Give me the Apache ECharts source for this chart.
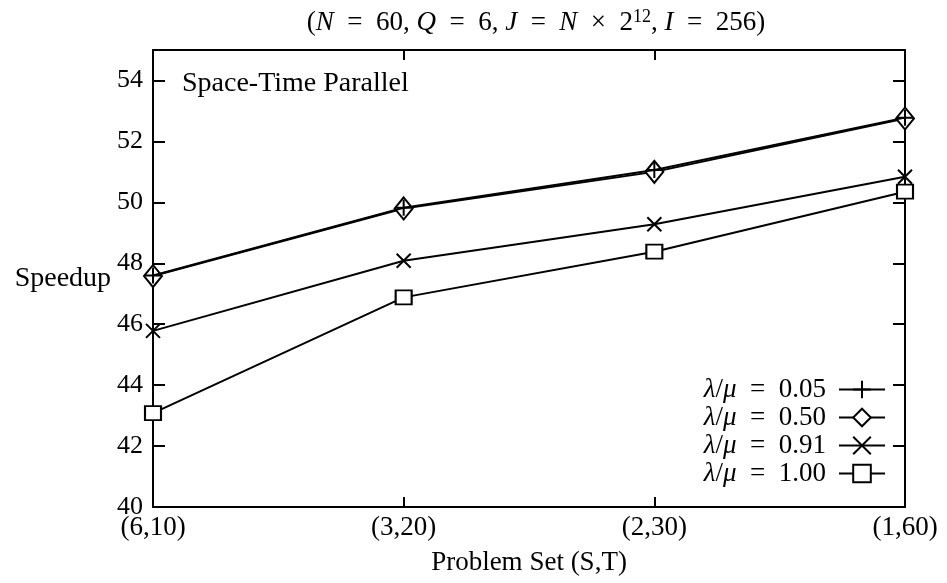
<!DOCTYPE html>
<html>
<head>
<meta charset="utf-8">
<script src="https://cdn.jsdelivr.net/npm/echarts@6/dist/echarts.min.js"></script>
<style>
  html, body { margin: 0; padding: 0; background: #fff; }
  #chart { width: 947px; height: 583px; }
</style>
</head>
<body>
<div id="chart"></div>
<script>
// problem sets along the x axis
var problemSets = ['(6,10)', '(3,20)', '(2,30)', '(1,60)'];
var ratioNames = ['0.05', '0.50', '0.91', '1.00'];
// speedup for each lambda/mu ratio
var speedup005 = [47.6, 49.82, 51.06, 52.78];
var speedup050 = [47.58, 49.8, 51.0, 52.75];
var speedup091 = [45.78, 48.08, 49.28, 50.84];
var speedup100 = [43.08, 46.88, 48.38, 50.35];
var yTicks = [40, 42, 44, 46, 48, 50, 52, 54];

var FONT = 'Liberation Serif';
var SP = '\u2002';
var chart = echarts.init(document.getElementById('chart'));

var plusPath = 'path://M0,10 L20,10 M10,0 L10,20';
var crossPath = 'path://M0,0 L20,20 M20,0 L0,20';

function makeSeries(name, data, symbol, size) {
    return {
        name: name,
        type: 'line',
        data: data,
        symbol: symbol,
        symbolSize: size,
        showAllSymbol: true,
        lineStyle: { color: '#000', width: 2 },
        itemStyle: { color: '#fff', borderColor: '#000', borderWidth: 2 },
        emphasis: { disabled: true },
        z: 3
    };
}

var option = {
    backgroundColor: '#fff',
    animation: false,
    title: [{
        text: '({i|N}' + SP + '=' + SP + '60, {i|Q}' + SP + '=' + SP + '6, {i|J}' + SP + '=' + SP +
            '{i|N}' + SP + '×' + SP + '2{sup|12}, {i|I}' + SP + '=' + SP + '256)',
        left: 531,
        textAlign: 'center',
        top: 3,
        textStyle: {
            fontFamily: FONT,
            fontSize: 27,
            fontWeight: 'normal',
            color: '#000',
            rich: {
                i: { fontFamily: FONT, fontSize: 27, fontStyle: 'italic', color: '#000' },
                sup: { fontFamily: FONT, fontSize: 18, color: '#000', verticalAlign: 'top', padding: [0, 0, 12, 0] }
            }
        }
    }, {
        text: 'Space-Time Parallel',
        left: 177,
        top: 65,
        textStyle: { fontFamily: FONT, fontSize: 28, fontWeight: 'normal', color: '#000' }
    }],
    legend: {
        orient: 'vertical',
        right: 56,
        top: 371,
        align: 'right',
        itemWidth: 46,
        itemHeight: 22,
        itemGap: 1,
        selectedMode: false,
        formatter: function (name) {
            return '{i|λ}/{i|μ}' + SP + '=' + SP + name;
        },
        textStyle: {
            fontFamily: FONT,
            fontSize: 27,
            color: '#000',
            padding: [0, 8, 0, 0],
            rich: {
                i: { fontFamily: FONT, fontSize: 27, fontStyle: 'italic', color: '#000' }
            }
        },
        data: ratioNames
    },
    grid: { left: 153, right: 42, top: 50, bottom: 76 },
    xAxis: [{
        type: 'category',
        data: problemSets,
        boundaryGap: false,
        name: 'Problem Set (S,T)',
        nameLocation: 'middle',
        nameGap: 42,
        nameTextStyle: { fontFamily: FONT, fontSize: 27, color: '#000' },
        axisLine: { lineStyle: { color: '#000', width: 2 } },
        axisTick: { inside: true, length: 10, lineStyle: { color: '#000', width: 2 } },
        axisLabel: { fontFamily: FONT, fontSize: 27, color: '#000', margin: 7 },
        splitLine: { show: false }
    }, {
        type: 'category',
        data: problemSets,
        boundaryGap: false,
        position: 'top',
        axisLine: { lineStyle: { color: '#000', width: 2 } },
        axisTick: { inside: true, length: 10, lineStyle: { color: '#000', width: 2 } },
        axisLabel: { show: false },
        splitLine: { show: false }
    }],
    yAxis: [{
        type: 'value',
        min: 40,
        max: 55,
        interval: 2,
        name: 'Speedup',
        nameLocation: 'middle',
        nameRotate: 0,
        nameGap: 36,
        nameTextStyle: { fontFamily: FONT, fontSize: 28, color: '#000', align: 'right' },
        axisLine: { show: true, lineStyle: { color: '#000', width: 2 } },
        axisTick: { show: true, inside: true, length: 12, lineStyle: { color: '#000', width: 2 } },
        axisLabel: {
            fontFamily: FONT, fontSize: 26, color: '#000', margin: 10,
            formatter: function (v) { return yTicks.indexOf(v) >= 0 ? String(v) : ''; }
        },
        splitLine: { show: false }
    }, {
        type: 'value',
        min: 40,
        max: 55,
        interval: 2,
        position: 'right',
        axisLine: { show: true, lineStyle: { color: '#000', width: 2 } },
        axisTick: { show: true, inside: true, length: 12, lineStyle: { color: '#000', width: 2 } },
        axisLabel: { show: false },
        splitLine: { show: false }
    }],
    series: [
        makeSeries(ratioNames[0], speedup005, plusPath, 16),
        makeSeries(ratioNames[1], speedup050, 'diamond', [18, 22]),
        makeSeries(ratioNames[2], speedup091, crossPath, 14),
        makeSeries(ratioNames[3], speedup100, 'rect', [16, 14])
    ]
};
// plus marker sits on top of the diamond
option.series[0].z = 4;
option.series[0].itemStyle = { color: 'none', borderColor: '#000', borderWidth: 2 };
option.series[2].itemStyle = { color: 'none', borderColor: '#000', borderWidth: 2 };
chart.setOption(option);
</script>
</body>
</html>
